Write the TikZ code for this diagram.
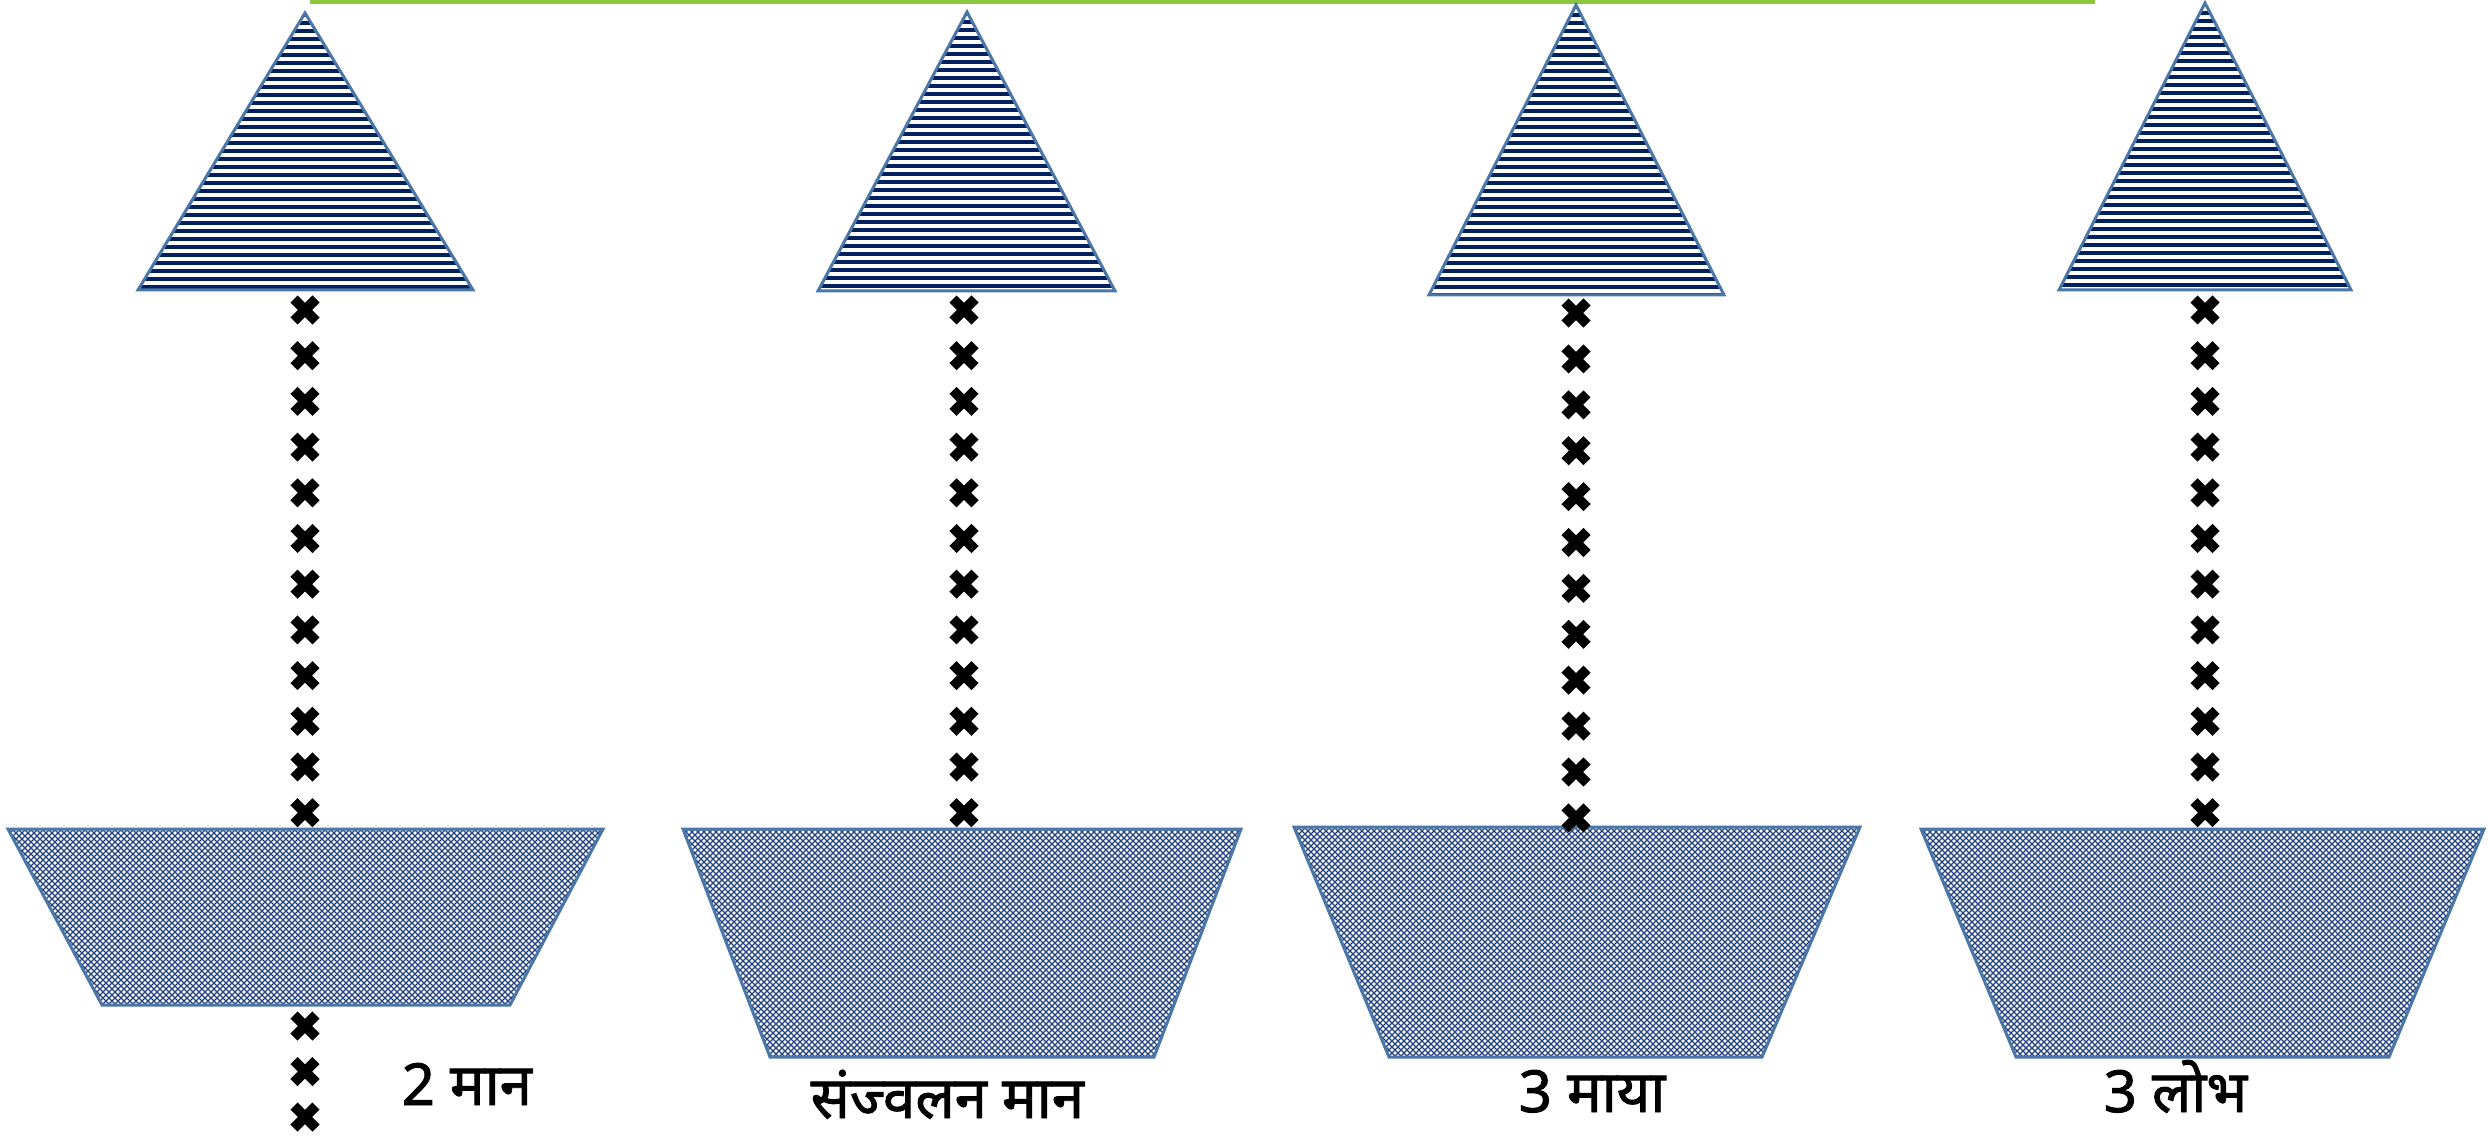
\documentclass[tikz,border=0pt]{standalone}
\usepackage{fontspec}
\newfontfamily\deva[Script=Devanagari,FakeBold=1.6]{Noto Sans}
\definecolor{navy}{HTML}{002060}
\definecolor{hatchnavy}{HTML}{24427F}
\definecolor{edgeblue}{HTML}{4A76A8}
\definecolor{topgreen}{HTML}{8CC63F}
\tikzset{
  edgeline/.style={draw=edgeblue, line width=0.03cm, line join=miter},
  hatchline/.style={draw=hatchnavy, line width=0.013cm},
  crossmark/.style={draw=black, line width=0.1cm},
  lbl/.style={font=\deva\bfseries\fontsize{16.5}{18}\selectfont, inner sep=0pt, anchor=base west},
  xmark/.pic={\draw[crossmark] (-11,-11)--(11,11) (-11,11)--(11,-11);}
}
% triangle: #1 apex x, #2 apex y, #3 base left x, #4 base right x, #5 base y
\newcommand\stripetri[5]{%
  \begin{scope}
    \clip (#1,#2) -- (#3,#5) -- (#4,#5) -- cycle;
    \foreach \i in {0,...,38}{\fill[navy] (#3,#2+8*\i) rectangle (#4,#2+8*\i+4);}
  \end{scope}
  \draw[edgeline] (#1,#2) -- (#3,#5) -- (#4,#5) -- cycle;}
% trapezoid: #1 top left x, #2 top right x, #3 top y, #4 bottom left x, #5 bottom right x, #6 bottom y
\newcommand\hatchtrap[6]{%
  \begin{scope}
    \clip (#1,#3) -- (#2,#3) -- (#5,#6) -- (#4,#6) -- cycle;
    \pgfmathsetmacro\hatchH{#6-#3}
    \pgfmathtruncatemacro\hatchN{(#2-#1+\hatchH)/6+1}
    \foreach \i in {0,...,\hatchN}{
      \pgfmathsetmacro\hatchS{#1-\hatchH+6*\i}
      \draw[hatchline] (\hatchS,#6) -- ++(\hatchH,-\hatchH) (\hatchS,#3) -- ++(\hatchH,\hatchH);
    }
  \end{scope}
  \draw[edgeline] (#1,#3) -- (#2,#3) -- (#5,#6) -- (#4,#6) -- cycle;}
\begin{document}
\begin{tikzpicture}[x=0.01cm,y=-0.01cm]
\useasboundingbox (0,0) rectangle (2489,1137);
\fill[white] (0,0) rectangle (2489,1137);
% top green line
\fill[topgreen] (310,0) rectangle (2095,4);
% triangles
\stripetri{305}{13}{138}{473}{290}
\stripetri{967}{12}{818}{1115}{291}
\stripetri{1576}{5}{1429}{1724}{295}
\stripetri{2205}{3}{2059}{2351}{290}
% trapezoids
\hatchtrap{8}{603}{829}{102}{510}{1005}
\hatchtrap{683}{1241}{829}{770}{1154}{1057}
\hatchtrap{1294}{1860}{827}{1389}{1762}{1057}
\hatchtrap{1921}{2484}{829}{2016}{2389}{1057}
% cross columns
\coordinate (c1top) at (305,310);
\coordinate (c2top) at (964,310);
\coordinate (c3top) at (1576,313);
\coordinate (c4top) at (2205,310);
\foreach \cc in {c1top,c2top,c4top}{
  \foreach \j in {0,...,11}{\path (\cc) ++(0,45.7*\j) pic {xmark};}}
\foreach \j in {0,...,11}{\path (c3top) ++(0,45.9*\j) pic {xmark};}
\coordinate (c1low) at (305,1026);
\foreach \j in {0,1,2}{\path (c1low) ++(0,45.5*\j) pic {xmark};}
% labels
\node[lbl] (l1) at (401,1105) {2 मान};
\node[lbl] (l2) at (810,1118) {संज्वलन मान};
\node[lbl] (l3) at (1518,1112) {3 माया};
\node[lbl] (l4) at (2103,1112) {3 लोभ};
\end{tikzpicture}
\end{document}
